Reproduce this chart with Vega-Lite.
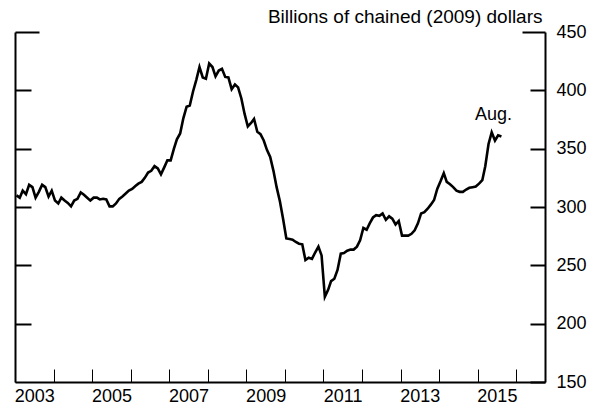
{
 "$schema": "https://vega.github.io/schema/vega-lite/v6.json",
 "width": 530, "height": 350,
 "autosize": {"type": "none"},
 "padding": {"left": 15, "top": 32, "right": 54, "bottom": 27},
 "background": "white",
 "config": {
  "font": "Liberation Sans",
  "view": {"stroke": null},
  "axis": {"grid": false, "domainColor": "black", "tickColor": "black", "labelColor": "black", "titleColor": "black", "labelFontSize": 18, "titleFontSize": 19, "titleFontWeight": "normal"}
 },
 "data": {"values": [
  {"date":"2003-01-15","value":310},{"date":"2003-02-15","value":308},{"date":"2003-03-15","value":314},{"date":"2003-04-15","value":311},{"date":"2003-05-15","value":319},{"date":"2003-06-15","value":317},{"date":"2003-07-15","value":308},{"date":"2003-08-15","value":313},{"date":"2003-09-15","value":319},{"date":"2003-10-15","value":317},{"date":"2003-11-15","value":309},{"date":"2003-12-15","value":314},
  {"date":"2004-01-15","value":305.5},{"date":"2004-02-15","value":303},{"date":"2004-03-15","value":308},{"date":"2004-04-15","value":305.5},{"date":"2004-05-15","value":303.5},{"date":"2004-06-15","value":300.5},{"date":"2004-07-15","value":305.5},{"date":"2004-08-15","value":307},{"date":"2004-09-15","value":312.5},{"date":"2004-10-15","value":310.5},{"date":"2004-11-15","value":308},{"date":"2004-12-15","value":305.5},
  {"date":"2005-01-15","value":308},{"date":"2005-02-15","value":308},{"date":"2005-03-15","value":306.5},{"date":"2005-04-15","value":307},{"date":"2005-05-15","value":306.5},{"date":"2005-06-15","value":300.5},{"date":"2005-07-15","value":300.5},{"date":"2005-08-15","value":303},{"date":"2005-09-15","value":307},{"date":"2005-10-15","value":309},{"date":"2005-11-15","value":311.5},{"date":"2005-12-15","value":314},
  {"date":"2006-01-15","value":315.5},{"date":"2006-02-15","value":318},{"date":"2006-03-15","value":320},{"date":"2006-04-15","value":321.5},{"date":"2006-05-15","value":325},{"date":"2006-06-15","value":329.5},{"date":"2006-07-15","value":331},{"date":"2006-08-15","value":335},{"date":"2006-09-15","value":333},{"date":"2006-10-15","value":328},{"date":"2006-11-15","value":334},{"date":"2006-12-15","value":340},
  {"date":"2007-01-15","value":340},{"date":"2007-02-15","value":350},{"date":"2007-03-15","value":358},{"date":"2007-04-15","value":363},{"date":"2007-05-15","value":376},{"date":"2007-06-15","value":386},{"date":"2007-07-15","value":387},{"date":"2007-08-15","value":399},{"date":"2007-09-15","value":409},{"date":"2007-10-15","value":420},{"date":"2007-11-15","value":411},{"date":"2007-12-15","value":410},
  {"date":"2008-01-15","value":423},{"date":"2008-02-15","value":420},{"date":"2008-03-15","value":412},{"date":"2008-04-15","value":417},{"date":"2008-05-15","value":418.5},{"date":"2008-06-15","value":411.5},{"date":"2008-07-15","value":411},{"date":"2008-08-15","value":401},{"date":"2008-09-15","value":405},{"date":"2008-10-15","value":402.5},{"date":"2008-11-15","value":393},{"date":"2008-12-15","value":380},
  {"date":"2009-01-15","value":369},{"date":"2009-02-15","value":372},{"date":"2009-03-15","value":375.5},{"date":"2009-04-15","value":364.5},{"date":"2009-05-15","value":362.5},{"date":"2009-06-15","value":357},{"date":"2009-07-15","value":349},{"date":"2009-08-15","value":343},{"date":"2009-09-15","value":331},{"date":"2009-10-15","value":317},{"date":"2009-11-15","value":305},{"date":"2009-12-15","value":290},
  {"date":"2010-01-15","value":273},{"date":"2010-02-15","value":272.5},{"date":"2010-03-15","value":272},{"date":"2010-04-15","value":270},{"date":"2010-05-15","value":268.5},{"date":"2010-06-15","value":268},{"date":"2010-07-15","value":254.5},{"date":"2010-08-15","value":256.5},{"date":"2010-09-15","value":255.5},{"date":"2010-10-15","value":261},{"date":"2010-11-15","value":266},{"date":"2010-12-15","value":258.5},
  {"date":"2011-01-15","value":223},{"date":"2011-02-15","value":229},{"date":"2011-03-15","value":236.5},{"date":"2011-04-15","value":238.5},{"date":"2011-05-15","value":246},{"date":"2011-06-15","value":260},{"date":"2011-07-15","value":260.5},{"date":"2011-08-15","value":262.5},{"date":"2011-09-15","value":263.5},{"date":"2011-10-15","value":263.5},{"date":"2011-11-15","value":266},{"date":"2011-12-15","value":271.5},
  {"date":"2012-01-15","value":282},{"date":"2012-02-15","value":280.5},{"date":"2012-03-15","value":286},{"date":"2012-04-15","value":291},{"date":"2012-05-15","value":293},{"date":"2012-06-15","value":292.5},{"date":"2012-07-15","value":294.5},{"date":"2012-08-15","value":289},{"date":"2012-09-15","value":292},{"date":"2012-10-15","value":290},{"date":"2012-11-15","value":285},{"date":"2012-12-15","value":288},
  {"date":"2013-01-15","value":275.5},{"date":"2013-02-15","value":275.5},{"date":"2013-03-15","value":275.5},{"date":"2013-04-15","value":277},{"date":"2013-05-15","value":280},{"date":"2013-06-15","value":286},{"date":"2013-07-15","value":294.5},{"date":"2013-08-15","value":295.5},{"date":"2013-09-15","value":298.5},{"date":"2013-10-15","value":302},{"date":"2013-11-15","value":306},{"date":"2013-12-15","value":315.5},
  {"date":"2014-01-15","value":322},{"date":"2014-02-15","value":329},{"date":"2014-03-15","value":321.5},{"date":"2014-04-15","value":319.5},{"date":"2014-05-15","value":317},{"date":"2014-06-15","value":314},{"date":"2014-07-15","value":313},{"date":"2014-08-15","value":313},{"date":"2014-09-15","value":315},{"date":"2014-10-15","value":316.5},{"date":"2014-11-15","value":317},{"date":"2014-12-15","value":317.5},
  {"date":"2015-01-15","value":320},{"date":"2015-02-15","value":323},{"date":"2015-03-15","value":335},{"date":"2015-04-15","value":354},{"date":"2015-05-15","value":364},{"date":"2015-06-15","value":357},{"date":"2015-07-15","value":361.5},{"date":"2015-08-15","value":360.5,"note":"Aug."}
 ]},
 "layer": [
  {
   "mark": {"type": "line", "color": "black", "strokeWidth": 2.6, "strokeJoin": "miter"},
   "encoding": {
    "x": {"field": "date", "type": "temporal",
     "scale": {"type": "utc", "domain": [{"year": 2003, "month": 1, "date": 1, "utc": true}, {"year": 2016, "month": 10, "date": 1, "utc": true}]},
     "axis": {"title": null, "values": [
       {"year":2003,"month":1,"date":1,"utc":true},{"year":2004,"month":1,"date":1,"utc":true},{"year":2005,"month":1,"date":1,"utc":true},{"year":2006,"month":1,"date":1,"utc":true},{"year":2007,"month":1,"date":1,"utc":true},{"year":2008,"month":1,"date":1,"utc":true},{"year":2009,"month":1,"date":1,"utc":true},{"year":2010,"month":1,"date":1,"utc":true},{"year":2011,"month":1,"date":1,"utc":true},{"year":2012,"month":1,"date":1,"utc":true},{"year":2013,"month":1,"date":1,"utc":true},{"year":2014,"month":1,"date":1,"utc":true},{"year":2015,"month":1,"date":1,"utc":true},{"year":2016,"month":1,"date":1,"utc":true}],
      "labelExpr": "utcyear(datum.value) % 2 == 1 ? utcFormat(datum.value, '%Y') : ''",
      "labelOffset": 19.3, "labelOverlap": false, "labelFlush": false, "labelPadding": 18,
      "tickSize": -13, "tickWidth": 1, "domainWidth": 2}},
    "y": {"field": "value", "type": "quantitative",
     "scale": {"domain": [150, 450], "nice": false, "zero": false},
     "axis": {"orient": "left", "title": null, "labels": false, "values": [200, 250, 300, 350, 400, 450],
      "tickSize": {"condition": {"test": "datum.value == 450", "value": -24}, "value": -16},
      "tickWidth": 2, "domainWidth": 2}}
   }
  },
  {
   "transform": [{"filter": "datum.note"}],
   "mark": {"type": "text", "align": "center", "baseline": "alphabetic", "dx": -8, "dy": -16, "fontSize": 18, "color": "black"},
   "encoding": {
    "x": {"field": "date", "type": "temporal"},
    "y": {"field": "value", "type": "quantitative",
     "axis": {"orient": "right", "values": [150, 200, 250, 300, 350, 400, 450],
      "tickSize": {"condition": {"test": "datum.value == 450", "value": -23}, "value": -15},
      "labelPadding": {"condition": {"test": "datum.value == 450", "value": 34}, "value": 26},
      "tickWidth": 2, "domainWidth": 2,
      "title": "Billions of chained (2009) dollars", "titleAngle": 0, "titleAlign": "right", "titleBaseline": "alphabetic", "titleX": -3, "titleY": -9.5}},
    "text": {"field": "note"}
   }
  }
 ],
 "resolve": {"axis": {"y": "independent"}}
}
